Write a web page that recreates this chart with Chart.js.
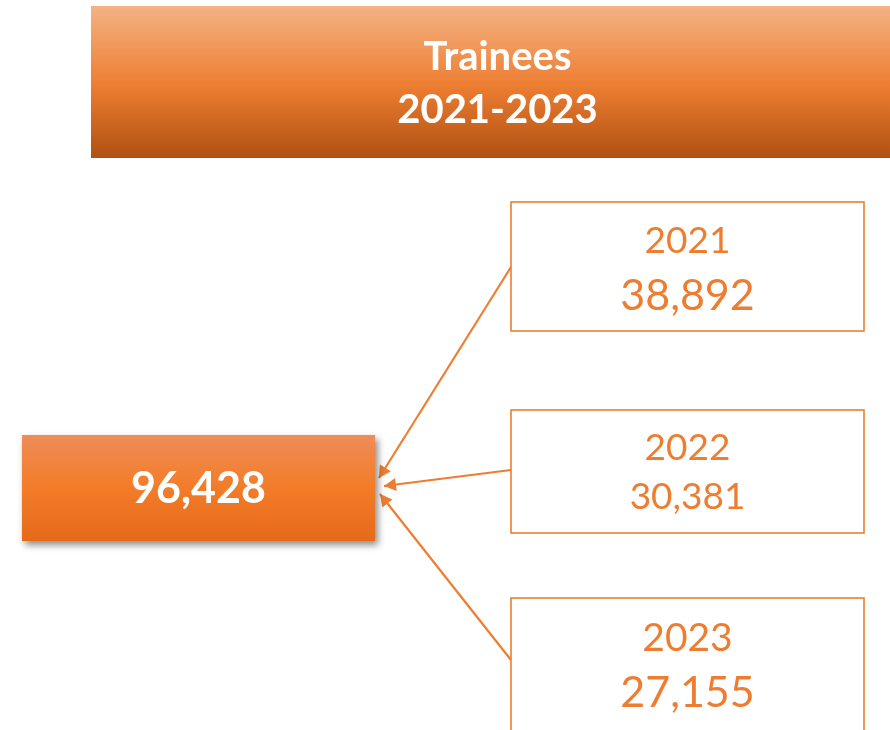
<!DOCTYPE html>
<html>
<head>
<meta charset="utf-8">
<script src="https://cdn.jsdelivr.net/npm/chart.js@4.4.1/dist/chart.umd.min.js"></script>
<style>
html,body{margin:0;padding:0;background:#fff;}
#wrap{width:890px;height:730px;position:relative;}
</style>
</head>
<body>
<div id="wrap"><canvas id="c" width="890" height="730"></canvas></div>
<script>
// ---- data ----
const titleLines = ["Trainees", "2021-2023"];
const years = ["2021", "2022", "2023"];
const trainees = [38892, 30381, 27155];
const totalTrainees = 96428;

// ---- layout (styling only) ----
const ORANGE = "rgb(237,125,49)";
const fmt = v => v.toLocaleString("en-US");
const layout = {
  title: {x0: 91, y0: 6, x1: 890, y1: 158},
  center: {x0: 22, y0: 435, x1: 375, y1: 541},
  boxes: [
    {x0: 511, y0: 202, x1: 864, y1: 331, yearY: 241, valY: 296, yearSize: 37, valSize: 43, from: 267, to: [379, 478]},
    {x0: 511, y0: 410, x1: 864, y1: 533, yearY: 448, valY: 497, yearSize: 37, valSize: 37, from: 470, to: [384, 486]},
    {x0: 511, y0: 598, x1: 864, y1: 760, yearY: 638, valY: 693, yearSize: 39, valSize: 43, from: 660, to: [380, 494]}
  ]
};

const diagramPlugin = {
  id: "diagram",
  afterDraw(chart) {
    const ctx = chart.ctx;
    const xs = chart.scales.x, ys = chart.scales.y;
    const X = v => xs.getPixelForValue(v);
    const Y = v => ys.getPixelForValue(v);
    ctx.save();

    // Title box
    const t = layout.title;
    let g = ctx.createLinearGradient(0, Y(t.y0), 0, Y(t.y1));
    g.addColorStop(0, "rgb(244,178,132)");
    g.addColorStop(0.52, "rgb(237,126,50)");
    g.addColorStop(1, "rgb(176,80,18)");
    ctx.fillStyle = g;
    ctx.fillRect(X(t.x0), Y(t.y0), X(t.x1) - X(t.x0), Y(t.y1) - Y(t.y0));
    ctx.fillStyle = "#fff";
    ctx.textAlign = "center";
    ctx.textBaseline = "middle";
    ctx.font = "bold 40px Lato, 'Open Sans', sans-serif";
    const tcx = (X(t.x0) + X(t.x1)) / 2 + 7;
    ctx.fillText(titleLines[0], tcx, Y(57));
    ctx.fillText(titleLines[1], tcx, Y(110));

    // Connectors with arrowheads
    ctx.strokeStyle = ORANGE;
    ctx.fillStyle = ORANGE;
    ctx.lineWidth = 2.2;
    layout.boxes.forEach(b => {
      const sx = X(b.x0), sy = Y(b.from);
      const ex = X(b.to[0]), ey = Y(b.to[1]);
      ctx.beginPath();
      ctx.moveTo(sx, sy);
      ctx.lineTo(ex, ey);
      ctx.stroke();
      const ang = Math.atan2(ey - sy, ex - sx);
      const L = 12, W = 6.5;
      ctx.beginPath();
      ctx.moveTo(ex, ey);
      ctx.lineTo(ex - L * Math.cos(ang) + W * Math.sin(ang), ey - L * Math.sin(ang) - W * Math.cos(ang));
      ctx.lineTo(ex - L * Math.cos(ang) - W * Math.sin(ang), ey - L * Math.sin(ang) + W * Math.cos(ang));
      ctx.closePath();
      ctx.fill();
    });

    // Center box with shadow
    const c = layout.center;
    ctx.save();
    ctx.shadowColor = "rgba(0,0,0,0.45)";
    ctx.shadowBlur = 7;
    ctx.shadowOffsetX = 3;
    ctx.shadowOffsetY = 4;
    g = ctx.createLinearGradient(0, Y(c.y0), 0, Y(c.y1));
    g.addColorStop(0, "rgb(239,140,88)");
    g.addColorStop(0.5, "rgb(243,124,40)");
    g.addColorStop(1, "rgb(229,106,26)");
    ctx.fillStyle = g;
    ctx.fillRect(X(c.x0), Y(c.y0), X(c.x1) - X(c.x0), Y(c.y1) - Y(c.y0));
    ctx.restore();
    ctx.fillStyle = "#fff";
    ctx.font = "bold 43px Lato, 'Open Sans', sans-serif";
    ctx.textAlign = "center";
    ctx.textBaseline = "middle";
    ctx.fillText(fmt(totalTrainees), (X(c.x0) + X(c.x1)) / 2, Y(489));

    // Year boxes
    layout.boxes.forEach((b, i) => {
      ctx.fillStyle = "#fff";
      ctx.fillRect(X(b.x0), Y(b.y0), X(b.x1) - X(b.x0), Y(b.y1) - Y(b.y0));
      ctx.strokeStyle = ORANGE;
      ctx.lineWidth = 1.6;
      ctx.strokeRect(X(b.x0), Y(b.y0), X(b.x1) - X(b.x0), Y(b.y1) - Y(b.y0));
      const cx = (X(b.x0) + X(b.x1)) / 2;
      ctx.fillStyle = ORANGE;
      ctx.font = b.yearSize + "px Lato, 'Open Sans', sans-serif";
      ctx.fillText(years[i], cx, Y(b.yearY));
      ctx.font = b.valSize + "px Lato, 'Open Sans', sans-serif";
      ctx.fillText(fmt(trainees[i]), cx, Y(b.valY));
    });
    ctx.restore();
  }
};

new Chart(document.getElementById("c"), {
  type: "scatter",
  data: {
    datasets: [{
      label: "Trainees",
      data: years.map((y, i) => ({x: 0, y: 0})),
      pointRadius: 0,
      showLine: false
    }]
  },
  options: {
    responsive: false,
    animation: false,
    events: [],
    layout: {padding: 0},
    plugins: {legend: {display: false}, tooltip: {enabled: false}, title: {display: false}},
    scales: {
      x: {type: "linear", min: 0, max: 890, display: false},
      y: {type: "linear", min: 0, max: 730, reverse: true, display: false}
    }
  },
  plugins: [diagramPlugin]
});
</script>
</body>
</html>
